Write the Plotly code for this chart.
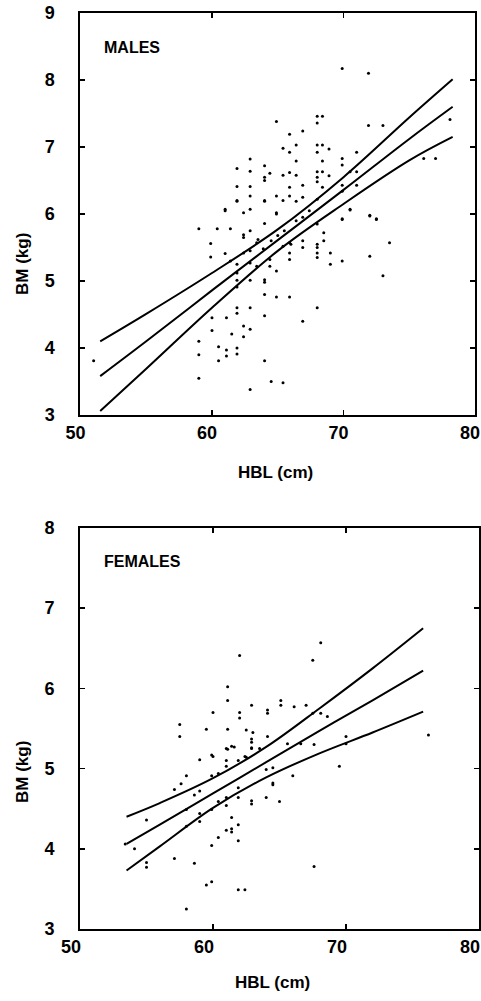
import plotly.graph_objects as go

# ---------------- DATA ----------------
males_hbl = [51.0, 59.0, 60.4, 61.4, 59.9, 59.9, 61.0, 61.0, 61.9, 62.9, 62.4, 64.0, 64.9, 64.9, 65.4,
             64.0, 62.4, 62.4, 62.9, 63.4, 62.9, 62.4, 61.0, 61.4, 61.9, 62.9, 61.9, 62.9, 61.9, 61.9,
             64.0, 64.0, 64.4, 64.4, 64.9, 63.4, 65.4, 65.9, 65.9, 65.9, 66.9, 66.9, 68.0, 68.0, 68.0,
             68.0, 68.5, 68.5, 69.0, 69.0, 68.0, 69.9, 69.9, 70.5, 72.0, 72.5, 72.0, 73.5, 73.0,
             60.0, 61.1, 60.0, 61.5, 61.9, 61.9, 62.9, 62.4, 62.9, 62.4, 61.9, 61.9, 60.5, 61.1, 61.1,
             60.5, 59.0, 59.0, 59.0, 62.9, 64.0, 64.0, 64.9, 65.9, 64.0, 64.5, 65.4, 66.9, 68.0,
             69.9, 71.9, 64.9, 65.9, 66.9, 68.0, 68.0, 68.4, 71.9, 73.0, 78.1, 65.4, 66.4, 65.9, 68.0,
             68.4, 68.9, 68.0, 66.4, 68.4, 68.0, 68.0, 68.0, 68.4, 68.9, 69.9, 69.9, 71.0, 70.5, 71.0,
             71.0, 76.1, 77.0, 61.9, 62.9, 62.9, 64.0, 64.4, 64.0, 64.0, 65.4, 65.9, 66.4, 61.9, 62.9,
             61.9, 62.9, 64.0, 64.9, 65.9, 65.9, 66.9, 66.9, 66.4, 68.0, 68.4, 69.9, 69.9, 70.5, 69.9,
             72.0, 72.5, 63.5, 64.5, 65.0, 65.5, 66.4, 66.9, 67.4, 66.0, 63.9]
males_bm = [3.81, 5.78, 5.78, 5.78, 5.56, 5.36, 6.07, 6.05, 6.20, 6.07, 6.02, 6.20, 6.02, 6.00, 6.20,
            5.86, 5.69, 5.65, 5.75, 5.57, 5.45, 5.42, 5.41, 5.30, 5.25, 5.27, 5.12, 5.01, 5.01, 4.91,
            5.02, 4.98, 5.32, 5.22, 5.15, 5.22, 5.52, 5.42, 5.32, 5.57, 5.60, 5.50, 5.55, 5.50, 5.42,
            5.35, 5.72, 5.60, 5.42, 5.25, 5.85, 5.92, 5.30, 6.07, 5.97, 5.92, 5.37, 5.57, 5.08,
            4.45, 4.45, 4.26, 4.21, 4.60, 4.52, 4.60, 4.33, 4.28, 4.17, 4.00, 3.91, 4.02, 3.97, 3.88,
            3.81, 4.10, 3.90, 3.55, 3.38, 4.48, 4.80, 4.76, 4.76, 3.81, 3.50, 3.48, 4.40, 4.60,
            8.17, 8.10, 7.38, 7.19, 7.24, 7.46, 7.36, 7.46, 7.32, 7.32, 7.41, 6.98, 7.03, 6.92, 7.03,
            7.03, 6.97, 6.92, 6.79, 6.79, 6.63, 6.55, 6.48, 6.63, 6.57, 6.83, 6.73, 6.92, 6.63, 6.63,
            6.43, 6.83, 6.83, 6.68, 6.82, 6.64, 6.72, 6.61, 6.55, 6.50, 6.58, 6.62, 6.58, 6.41, 6.41,
            6.19, 6.27, 6.19, 6.27, 6.40, 6.27, 6.43, 6.25, 6.19, 6.22, 6.40, 6.43, 6.34, 6.06, 5.93,
            5.98, 5.93, 5.62, 5.60, 5.68, 5.75, 5.90, 5.95, 6.05, 5.55, 5.48]

males_line_hbl = [51.5, 55, 60, 65, 70, 75, 78.3]
males_fit = [3.58, 4.10, 4.86, 5.61, 6.36, 7.12, 7.60]
males_upper = [4.10, 4.51, 5.12, 5.77, 6.55, 7.44, 8.01]
males_lower = [3.06, 3.69, 4.60, 5.45, 6.15, 6.80, 7.15]

females_hbl = [68.1, 67.5, 62.0, 61.1, 61.1, 60.0, 62.0, 62.0, 62.9, 64.1, 64.1, 65.1, 65.1, 66.1, 67.0,
               67.5, 68.1, 68.6, 57.5, 57.5, 59.5, 61.1, 62.5, 63.0, 62.9, 62.9, 64.1, 61.6, 61.1, 62.9,
               63.5, 65.6, 66.6, 67.6, 70.0, 70.0, 76.2, 60.0, 62.5,
               69.5, 66.0, 64.5, 64.0, 64.5, 64.5, 65.0, 64.0, 62.9, 62.9, 61.9, 61.9, 61.9, 61.9, 61.4,
               61.4, 61.4, 61.0, 60.4, 59.9, 61.0, 61.0, 60.4, 59.9, 59.0, 59.0, 59.0, 58.6, 58.0, 58.0,
               57.1, 57.6, 58.0, 59.9, 60.4, 59.9, 59.0, 61.0, 61.0, 61.4, 61.0, 61.9, 62.4, 62.9, 55.0,
               54.1, 55.0, 55.0, 57.1, 58.6, 59.5, 59.9, 61.9, 62.4, 58.0, 67.6, 53.4]
females_bm = [6.57, 6.35, 6.41, 6.02, 5.85, 5.70, 5.70, 5.63, 5.79, 5.73, 5.69, 5.85, 5.79, 5.77, 5.79,
              5.69, 5.69, 5.65, 5.55, 5.40, 5.49, 5.49, 5.48, 5.45, 5.37, 5.33, 5.40, 5.27, 5.24, 5.25,
              5.25, 5.31, 5.31, 5.30, 5.40, 5.31, 5.42, 5.15, 5.14,
              5.03, 4.91, 5.01, 4.99, 4.82, 4.80, 4.59, 4.64, 4.60, 4.56, 4.76, 4.64, 4.30, 4.10, 4.39,
              4.25, 4.21, 4.23, 4.14, 4.04, 4.64, 4.54, 4.59, 4.49, 4.44, 4.34, 4.72, 4.67, 4.49, 4.28,
              4.74, 4.81, 4.91, 4.91, 4.94, 5.17, 5.11, 5.10, 5.03, 5.28, 5.25, 5.10, 5.15, 5.26, 4.36,
              4.00, 3.83, 3.77, 3.88, 3.82, 3.55, 3.59, 3.49, 3.49, 3.25, 3.78, 4.06]

females_line_hbl = [53.5, 56, 60, 64, 68, 72, 75.8]
females_fit = [4.06, 4.30, 4.69, 5.08, 5.47, 5.85, 6.22]
females_upper = [4.40, 4.57, 4.88, 5.27, 5.75, 6.25, 6.75]
females_lower = [3.73, 4.03, 4.51, 4.89, 5.19, 5.45, 5.71]

x_ticks = [50, 60, 70, 80]
males_y_ticks = [3, 4, 5, 6, 7, 8, 9]
females_y_ticks = [3, 4, 5, 6, 7, 8]

# ---------------- FIGURE ----------------
FONT = "Liberation Sans"
fig = go.Figure()

def add_panel(xs, ys, lx, fit, up, lo, xa, ya):
    fig.add_trace(go.Scatter(x=xs, y=ys, mode="markers", xaxis=xa, yaxis=ya,
                             marker=dict(color="black", size=3), showlegend=False,
                             hoverinfo="skip"))
    for series in (up, fit, lo):
        fig.add_trace(go.Scatter(x=lx, y=series, mode="lines", xaxis=xa, yaxis=ya,
                                 line=dict(color="black", width=2, shape="spline", smoothing=1.0),
                                 showlegend=False, hoverinfo="skip"))

add_panel(males_hbl, males_bm, males_line_hbl, males_fit, males_upper, males_lower, "x", "y")
add_panel(females_hbl, females_bm, females_line_hbl, females_fit, females_upper, females_lower, "x2", "y2")

tickfont = dict(family=FONT, size=18, color="black", weight="bold")
common_x = dict(range=[50, 80], tickvals=x_ticks, ticks="inside", ticklen=5, tickwidth=1.5,
                tickcolor="black", showline=True, linewidth=2, linecolor="black",
                mirror="allticks", showgrid=False, zeroline=False, tickfont=tickfont,
                ticklabelstandoff=0, ticklabeloverflow="allow", automargin=False)
common_y = dict(ticks="inside", ticklen=5, tickwidth=1.5, tickcolor="black", showline=True,
                linewidth=2, linecolor="black", mirror="allticks", showgrid=False,
                zeroline=False, tickfont=tickfont, ticklabelstandoff=20,
                ticklabeloverflow="allow", automargin=False)

W, H = 481, 1001
L, R, T, B = 80, 2, 13, 72

fig.update_layout(
    width=W, height=H,
    margin=dict(l=L, r=R, t=T, b=B, autoexpand=False),
    paper_bgcolor="white", plot_bgcolor="white",
    xaxis=dict(common_x, domain=[0.0012, 0.99], anchor="y", ticklabelshift=-5),
    yaxis=dict(common_y, range=[3, 9], tickvals=males_y_ticks, domain=[0.5611, 1.0], anchor="x"),
    xaxis2=dict(common_x, domain=[0.0, 1.0], anchor="y2", ticklabelshift=-9),
    yaxis2=dict(common_y, range=[3, 8], tickvals=females_y_ticks, domain=[0.0, 0.4378], anchor="x2"),
)

labfont = dict(family=FONT, size=17, color="black", weight="bold")
ann = [
    dict(text="MALES", x=51.6, y=8.48, xref="x", yref="y", xanchor="left", yanchor="middle",
         showarrow=False, font=dict(family=FONT, size=16, color="black", weight="bold")),
    dict(text="FEMALES", x=51.65, y=7.58, xref="x2", yref="y2", xanchor="left", yanchor="middle",
         showarrow=False, font=dict(family=FONT, size=16, color="black", weight="bold")),
    dict(text="HBL (cm)", x=275, y=473, showarrow=False, font=labfont),
    dict(text="HBL (cm)", x=272, y=982, showarrow=False, font=labfont),
    dict(text="BM (kg)", x=22, y=264, textangle=-90, showarrow=False, font=labfont),
    dict(text="BM (kg)", x=22, y=772, textangle=-90, showarrow=False, font=labfont),
]
# convert window pixel positions for the title annotations to paper coordinates
for a in ann[2:]:
    px, py = a["x"], a["y"]
    a["x"] = (px - L) / (W - L - R)
    a["y"] = (H - B - py) / (H - T - B)
    a["xref"] = "paper"
    a["yref"] = "paper"
    a["xanchor"] = "center"
    a["yanchor"] = "middle"
fig.update_layout(annotations=ann)

# remove the default page margin so the figure sits at the window origin
fig.write_html("out.html",
               config={"displayModeBar": False, "staticPlot": True},
               post_script="document.body.style.margin='0';document.body.style.overflow='hidden';")
